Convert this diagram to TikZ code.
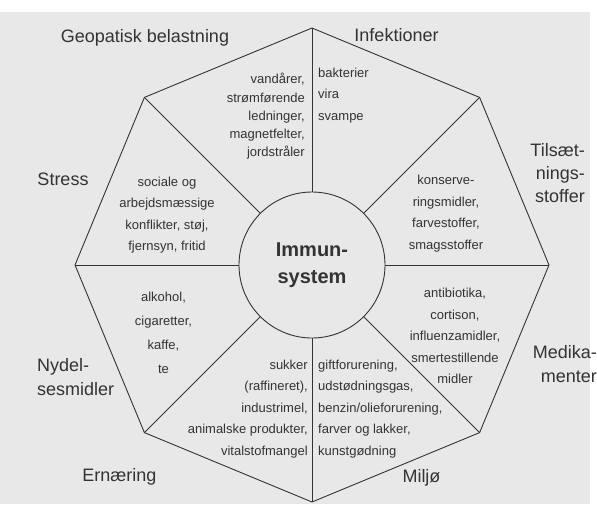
\documentclass[tikz,border=0pt]{standalone}
\usepackage{fontspec}
\setmainfont{Liberation Sans}
\definecolor{paper}{gray}{0.91}
\definecolor{ink}{gray}{0.2}
\begin{document}
\begin{tikzpicture}[x=1pt,y=-1pt,
  wire/.style={draw=ink, line width=0.9pt},
  ftxt/.style={text=ink, inner sep=0pt, font=\fontsize{13}{21.5}\selectfont},
  lbl/.style={text=ink, inner sep=0pt, font=\fontsize{18}{24}\selectfont}]
\useasboundingbox (0,0) rectangle (597,504);
\fill[white] (0,0) rectangle (597,504);
\fill[paper] (0,12) rectangle (590,504);

% octagon vertices
\coordinate (vN)  at (312,28);
\coordinate (vNE) at (479.6,97.4);
\coordinate (vE)  at (549,265);
\coordinate (vSE) at (479.6,432.6);
\coordinate (vS)  at (312,502);
\coordinate (vSW) at (144.4,432.6);
\coordinate (vW)  at (75,265);
\coordinate (vNW) at (144.4,97.4);

\node[circle, wire, minimum size=146pt, inner sep=0pt, align=center, text=ink,
      font=\bfseries\fontsize{20}{27.5}\selectfont] (imm) at (312,265) {Immun-\\system};

\draw[wire] (vN) -- (vNE) -- (vE) -- (vSE) -- (vS) -- (vSW) -- (vW) -- (vNW) -- cycle;
\foreach \v in {vN,vNE,vE,vSE,vS,vSW,vW,vNW} \draw[wire] (imm) -- (\v);

% sector contents
\node[ftxt, align=right, anchor=east, font=\fontsize{13}{18.3}\selectfont] (tgeo) at (305,116.5)
  {vandårer,\\strømførende\\ledninger,\\magnetfelter,\\jordstråler};
\node[ftxt, align=left, anchor=west] (tinf) at (318,95.5) {bakterier\\vira\\svampe};
\node[ftxt, align=center] (ttil) at (446,213.5) {konserve-\\ringsmidler,\\farvestoffer,\\smagsstoffer};
\node[ftxt, align=center] (tstr) at (167,215) {sociale og\\arbejdsmæssige\\konflikter, støj,\\fjernsyn, fritid};
\node[ftxt, align=center, font=\fontsize{13}{24}\selectfont] (tnyd) at (163.5,333) {alkohol,\\cigaretter,\\kaffe,\\te};
\node[ftxt, align=right, anchor=east] (tern) at (308,409)
  {sukker\\(raffineret),\\industrimel,\\animalske produkter,\\vitalstofmangel};
\node[ftxt, align=left, anchor=west] (tmil) at (318,409)
  {giftforurening,\\udstødningsgas,\\benzin/olieforurening,\\farver og lakker,\\kunstgødning};
\node[ftxt, align=center] (tmed) at (455,336)
  {antibiotika,\\cortison,\\influenzamidler,\\smertestillende\\midler};

% outer labels
\node[lbl, anchor=base] (lgeo) at (145,42) {Geopatisk belastning};
\node[lbl, anchor=base] (linf) at (396.5,41) {Infektioner};
\node[lbl, anchor=east, align=right, font=\fontsize{18}{23}\selectfont] (ltil) at (585,173.5) {Tilsæt-\\nings-\\stoffer};
\node[lbl, anchor=base] (lstr) at (63,185) {Stress};
\node[lbl, anchor=west, align=left] (lnyd) at (37,377.5) {Nydel-\\sesmidler};
\node[lbl, anchor=base] (lern) at (119.5,481) {Ernæring};
\node[lbl, anchor=base] (lmil) at (421.5,482) {Miljø};
\node[lbl, anchor=east, align=right] (lmed) at (597,364.5) {Medika-\\menter};
\end{tikzpicture}
\end{document}
